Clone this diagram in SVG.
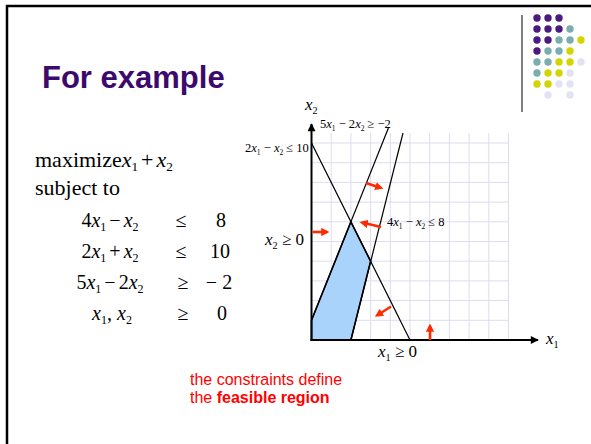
<svg xmlns="http://www.w3.org/2000/svg" width="591" height="444" viewBox="0 0 591 444">
<style>
.serif{font-family:"Liberation Serif","Times New Roman",serif;fill:#000}
.i{font-style:italic}
.sub{font-size:60%}
.big{font-size:22px}
.row{font-size:20px}
.lbl{font-size:12.5px}
.lbl2{font-size:17px}
.grid line{stroke:#dcdcf2;stroke-width:1}
.con{stroke:#000;stroke-width:1.2;fill:none}
.red{stroke:#ff2a00;stroke-width:2.6;fill:none;marker-end:url(#ra)}
.dP{fill:#4b1a80}.dT{fill:#7aaeae}.dY{fill:#d4d400}.dL{fill:#e2e2f2}
</style>
<defs>
<marker id="ra" viewBox="0 0 10 10" refX="7" refY="5" markerWidth="3.2" markerHeight="3.2" orient="auto" markerUnits="strokeWidth">
<path d="M0,0 L10,5 L0,10 z" fill="#ff2a00"/>
</marker>
<marker id="ka" viewBox="0 0 10 10" refX="9" refY="5" markerWidth="5" markerHeight="4" orient="auto" markerUnits="strokeWidth">
<path d="M0,0 L10,5 L0,10 z" fill="#000"/>
</marker>
</defs>
<rect width="591" height="444" fill="#fff"/>
<g id="frame">
<path d="M7,444 V6 H591" fill="none" stroke="#000" stroke-width="2.5"/>
<line x1="522" y1="15" x2="522" y2="112" stroke="#808080" stroke-width="2"/>
</g>
<g id="dots">
<circle class="dP" cx="537" cy="18" r="3.7"/><circle class="dP" cx="548" cy="18" r="3.7"/><circle class="dP" cx="559" cy="18" r="3.7"/>
<circle class="dP" cx="537" cy="29" r="3.7"/><circle class="dP" cx="548" cy="29" r="3.7"/><circle class="dP" cx="559" cy="29" r="3.7"/><circle class="dT" cx="570" cy="29" r="3.7"/>
<circle class="dP" cx="537" cy="40" r="3.7"/><circle class="dP" cx="548" cy="40" r="3.7"/><circle class="dT" cx="559" cy="40" r="3.7"/><circle class="dT" cx="570" cy="40" r="3.7"/><circle class="dY" cx="581" cy="40" r="3.7"/>
<circle class="dP" cx="537" cy="51" r="3.7"/><circle class="dT" cx="548" cy="51" r="3.7"/><circle class="dT" cx="559" cy="51" r="3.7"/><circle class="dY" cx="570" cy="51" r="3.7"/>
<circle class="dT" cx="537" cy="62" r="3.7"/><circle class="dT" cx="548" cy="62" r="3.7"/><circle class="dY" cx="559" cy="62" r="3.7"/><circle class="dY" cx="570" cy="62" r="3.7"/><circle class="dL" cx="581" cy="62" r="3.7"/>
<circle class="dT" cx="537" cy="73" r="3.7"/><circle class="dY" cx="548" cy="73" r="3.7"/><circle class="dY" cx="559" cy="73" r="3.7"/><circle class="dL" cx="570" cy="73" r="3.7"/>
<circle class="dY" cx="537" cy="84" r="3.7"/><circle class="dY" cx="548" cy="84" r="3.7"/><circle class="dL" cx="559" cy="84" r="3.7"/><circle class="dL" cx="570" cy="84" r="3.7"/>
<circle class="dL" cx="548" cy="95" r="3.7"/><circle class="dL" cx="570" cy="95" r="3.7"/>
</g>
<g id="title">
<text x="42" y="88" font-family="'Liberation Sans',Arial,sans-serif" font-weight="bold" font-size="31" fill="#3c0a6e">For example</text>
</g>
<g id="problem" class="serif">
<text class="big" x="35" y="167">maximize<tspan class="i">x</tspan><tspan class="sub" dy="4">1</tspan><tspan dy="-4" dx="3">+</tspan><tspan class="i" dx="3">x</tspan><tspan class="sub" dy="4">2</tspan></text>
<text class="big" x="35" y="195">subject to</text>
<g class="row">
<text x="110" y="227" text-anchor="middle">4<tspan class="i">x</tspan><tspan class="sub" dy="4">1</tspan><tspan dy="-4" dx="3">−</tspan><tspan class="i" dx="3">x</tspan><tspan class="sub" dy="4">2</tspan></text>
<text x="181" y="227" text-anchor="middle">≤</text>
<text x="221" y="227" text-anchor="middle">8</text>
<text x="110" y="258" text-anchor="middle">2<tspan class="i">x</tspan><tspan class="sub" dy="4">1</tspan><tspan dy="-4" dx="3">+</tspan><tspan class="i" dx="3">x</tspan><tspan class="sub" dy="4">2</tspan></text>
<text x="181" y="258" text-anchor="middle">≤</text>
<text x="220" y="258" text-anchor="middle">10</text>
<text x="110" y="289" text-anchor="middle">5<tspan class="i">x</tspan><tspan class="sub" dy="4">1</tspan><tspan dy="-4" dx="3">−</tspan><tspan dx="3">2</tspan><tspan class="i">x</tspan><tspan class="sub" dy="4">2</tspan></text>
<text x="183" y="289" text-anchor="middle">≥</text>
<text x="219" y="289" text-anchor="middle">− 2</text>
<text x="112" y="320" text-anchor="middle"><tspan class="i">x</tspan><tspan class="sub" dy="4">1</tspan><tspan dy="-4">, </tspan><tspan class="i">x</tspan><tspan class="sub" dy="4">2</tspan></text>
<text x="183" y="320" text-anchor="middle">≥</text>
<text x="222" y="320" text-anchor="middle">0</text>
</g>
</g>
<g id="grid" class="grid">
<line x1="331.2" y1="133" x2="331.2" y2="340"/><line x1="350.9" y1="133" x2="350.9" y2="340"/><line x1="370.6" y1="133" x2="370.6" y2="340"/><line x1="390.3" y1="133" x2="390.3" y2="340"/><line x1="410" y1="133" x2="410" y2="340"/>
<line x1="429.7" y1="133" x2="429.7" y2="340"/><line x1="449.4" y1="133" x2="449.4" y2="340"/><line x1="469.1" y1="133" x2="469.1" y2="340"/><line x1="488.8" y1="133" x2="488.8" y2="340"/><line x1="508.5" y1="133" x2="508.5" y2="340"/>
<line x1="311.5" y1="320.3" x2="508.5" y2="320.3"/><line x1="311.5" y1="300.6" x2="508.5" y2="300.6"/><line x1="311.5" y1="280.9" x2="508.5" y2="280.9"/><line x1="311.5" y1="261.2" x2="508.5" y2="261.2"/><line x1="311.5" y1="241.5" x2="508.5" y2="241.5"/>
<line x1="311.5" y1="221.8" x2="508.5" y2="221.8"/><line x1="311.5" y1="202.1" x2="508.5" y2="202.1"/><line x1="311.5" y1="182.4" x2="508.5" y2="182.4"/><line x1="311.5" y1="162.7" x2="508.5" y2="162.7"/><line x1="311.5" y1="143" x2="508.5" y2="143"/>
</g>
<g id="feasible-region">
<polygon points="311.5,340 350.9,340 370.6,261.2 350.9,221.8 311.5,320.3" fill="#a9d3fb" stroke="#000" stroke-width="1.6" stroke-linejoin="round"/>
</g>
<g id="connectors">
<line class="con" x1="311.5" y1="143" x2="410" y2="340"/>
<line class="con" x1="350.9" y1="340" x2="403" y2="133"/>
<line class="con" x1="311.5" y1="320.3" x2="388.4" y2="128"/>
<line x1="311.5" y1="341" x2="311.5" y2="124" stroke="#000" stroke-width="2" marker-end="url(#ka)"/>
<line x1="310.5" y1="340" x2="538" y2="340" stroke="#000" stroke-width="2" marker-end="url(#ka)"/>
<line class="red" x1="366" y1="183" x2="381" y2="188"/>
<line class="red" x1="381" y1="227" x2="362" y2="222.5"/>
<line class="red" x1="312.5" y1="232" x2="327" y2="232"/>
<line class="red" x1="391" y1="306.5" x2="377" y2="315.5"/>
<line class="red" x1="430" y1="340" x2="430" y2="326"/>
</g>
<g id="labels" class="serif">
<text class="lbl" x="320" y="128">5<tspan class="i">x</tspan><tspan class="sub" dy="3">1</tspan><tspan dy="-3"> − 2</tspan><tspan class="i">x</tspan><tspan class="sub" dy="3">2</tspan><tspan dy="-3"> ≥ −2</tspan></text>
<text class="lbl" x="245" y="152">2<tspan class="i">x</tspan><tspan class="sub" dy="3">1</tspan><tspan dy="-3"> − </tspan><tspan class="i">x</tspan><tspan class="sub" dy="3">2</tspan><tspan dy="-3"> ≤ 10</tspan></text>
<text class="lbl" x="387" y="226">4<tspan class="i">x</tspan><tspan class="sub" dy="3">1</tspan><tspan dy="-3"> − </tspan><tspan class="i">x</tspan><tspan class="sub" dy="3">2</tspan><tspan dy="-3"> ≤ 8</tspan></text>
<text class="lbl2" x="265" y="245"><tspan class="i">x</tspan><tspan class="sub" dy="4">2</tspan><tspan dy="-4"> ≥ 0</tspan></text>
<text class="lbl2" x="378" y="357"><tspan class="i">x</tspan><tspan class="sub" dy="4">1</tspan><tspan dy="-4"> ≥ 0</tspan></text>
<text class="lbl2" x="546" y="344"><tspan class="i">x</tspan><tspan class="sub" dy="4">1</tspan></text>
<text class="lbl2" x="305" y="110"><tspan class="i">x</tspan><tspan class="sub" dy="4">2</tspan></text>
</g>
<g id="caption" font-family="'Liberation Sans',Arial,sans-serif" font-size="16" fill="#ff0000">
<text x="190" y="385">the constraints define</text>
<text x="190" y="403">the <tspan font-weight="bold">feasible region</tspan></text>
</g>
</svg>
